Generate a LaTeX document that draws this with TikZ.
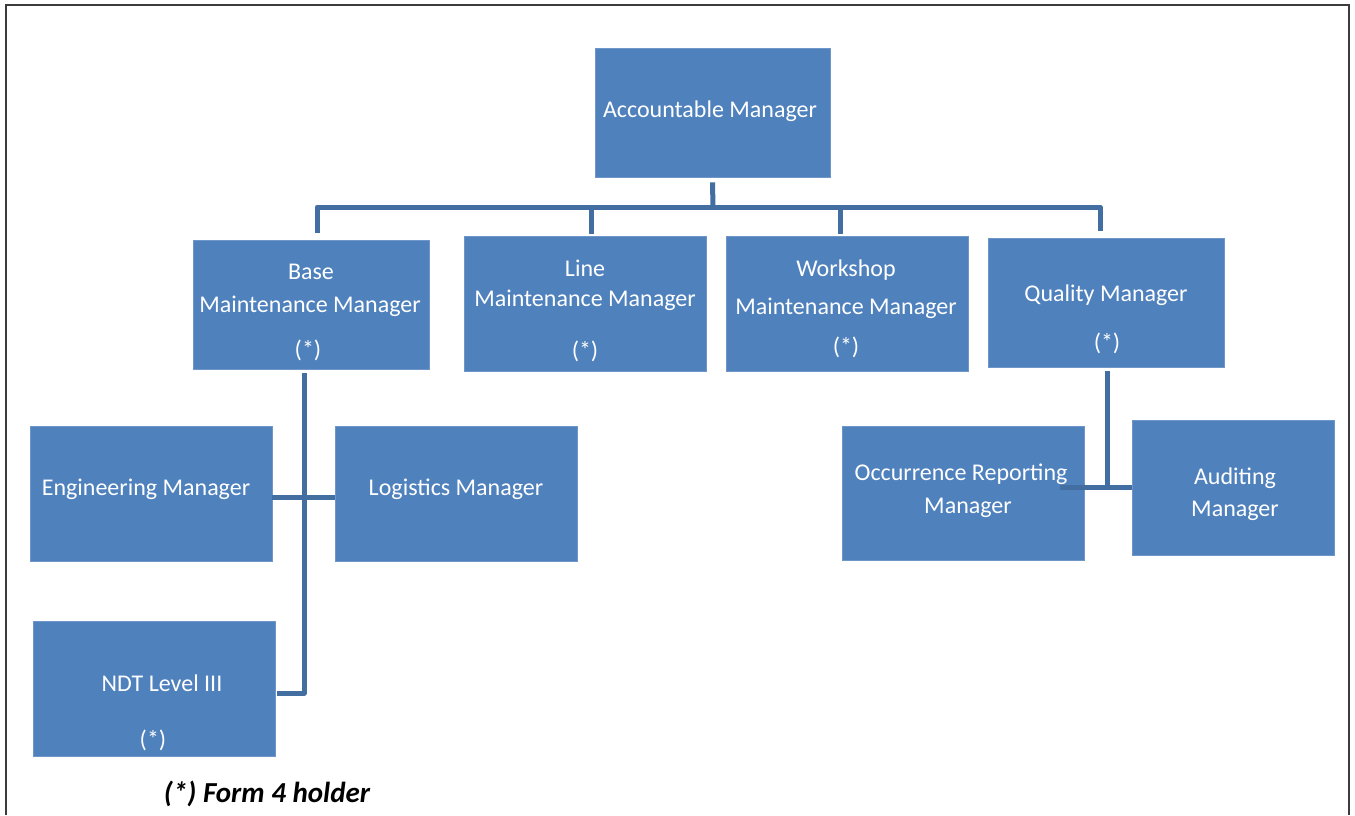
\documentclass[tikz,border=0pt]{standalone}
\usepackage{fontspec}
\setmainfont{Carlito}
\definecolor{boxblue}{RGB}{79,129,189}
\definecolor{boxedge}{RGB}{110,150,200}
\definecolor{linkblue}{RGB}{66,110,162}
\definecolor{framegray}{RGB}{60,60,60}
\begin{document}
\begin{tikzpicture}[x=1pt,y=-1pt,
  box/.style={rectangle, fill=boxblue, draw=boxedge, line width=0.8pt, inner sep=0pt},
  txt/.style={text=white, font=\fontsize{24}{29}\selectfont, inner sep=0pt, text height=19pt, text depth=3pt},
  conn/.style={draw=linkblue, line width=5pt, line join=round},
  frameline/.style={draw=framegray, line width=2pt}]
\useasboundingbox (0,0) rectangle (1355,815);
\draw[frameline] (6,815) -- (6,5) -- (1349,5) -- (1349,815);

% boxes
\node[box, minimum width=235pt, minimum height=129pt] (acc) at (712.5,112.5) {};
\node[box, minimum width=236pt, minimum height=129pt] (base) at (311,304.5) {};
\node[box, minimum width=242pt, minimum height=135pt] (line) at (585,303.5) {};
\node[box, minimum width=242pt, minimum height=135pt] (work) at (847,303.5) {};
\node[box, minimum width=236pt, minimum height=129pt] (qual) at (1106,302.5) {};
\node[box, minimum width=242pt, minimum height=135pt] (eng) at (151,493.5) {};
\node[box, minimum width=242pt, minimum height=135pt] (log) at (456,493.5) {};
\node[box, minimum width=242pt, minimum height=135pt] (ndt) at (154,688.5) {};
\node[box, minimum width=242pt, minimum height=134pt] (occ) at (963,493) {};
\node[box, minimum width=202pt, minimum height=135pt] (aud) at (1233,487.5) {};

% texts
\node[txt] (acc-t) at (710,109) {Accountable Manager};
\node[txt] (base-t1) at (311,271) {Base};
\node[txt] (base-t2) at (310,304) {Maintenance Manager};
\node[txt] (base-t3) at (308,349) {(*)};
\node[txt] (line-t1) at (585,268) {Line};
\node[txt] (line-t2) at (585,298) {Maintenance Manager};
\node[txt] (line-t3) at (585,350) {(*)};
\node[txt] (work-t1) at (846,268) {Workshop};
\node[txt] (work-t2) at (846,306) {Maintenance Manager};
\node[txt] (work-t3) at (846,346) {(*)};
\node[txt] (qual-t1) at (1106,293) {Quality Manager};
\node[txt] (qual-t2) at (1107,342) {(*)};
\node[txt] (eng-t) at (146,487) {Engineering Manager};
\node[txt] (log-t) at (456,487) {Logistics Manager};
\node[txt] (ndt-t1) at (162,683) {NDT Level III};
\node[txt] (ndt-t2) at (153,739) {(*)};
\node[txt] (occ-t1) at (961,472) {Occurrence Reporting};
\node[txt] (occ-t2) at (968,505) {Manager};
\node[txt] (aud-t1) at (1235,476) {Auditing};
\node[txt] (aud-t2) at (1235,508) {Manager};
\node[font=\bfseries\itshape\fontsize{29}{34}\selectfont, inner sep=0pt, text height=21pt, text depth=3pt] (note) at (267,793) {(*) Form 4 holder};

% connectors
\coordinate (bus) at (713,207);
\coordinate (bt) at ([xshift=6pt,yshift=7pt]base.north);
\coordinate (lt) at ([xshift=6pt,yshift=2pt]line.north);
\coordinate (wt) at ([xshift=-7pt,yshift=2pt]work.north);
\coordinate (qt) at ([xshift=-6pt,yshift=7pt]qual.north);
\draw[conn] ([yshift=-5pt]acc.south) -- (bus);
\draw[conn] (bt) -- (bt |- bus) -- (qt |- bus) -- (qt);
\draw[conn] (lt) -- (lt |- bus);
\draw[conn] (wt) -- (wt |- bus);

\coordinate (bb) at ([xshift=-7pt,yshift=-4pt]base.south);
\coordinate (nj) at ([xshift=2pt,yshift=-4.5pt]ndt.east);
\draw[conn] (bb) -- (bb |- nj) -- (nj);
\draw[conn] ([yshift=-3.5pt]eng.east) -- ([yshift=-3.5pt]log.west);

\coordinate (qb) at ([xshift=1pt,yshift=-4pt]qual.south);
\draw[conn] (qb) -- (qb |- aud.west);
\draw[conn] ([xshift=-24pt]occ.east |- aud.west) -- (aud.west);
\end{tikzpicture}
\end{document}
